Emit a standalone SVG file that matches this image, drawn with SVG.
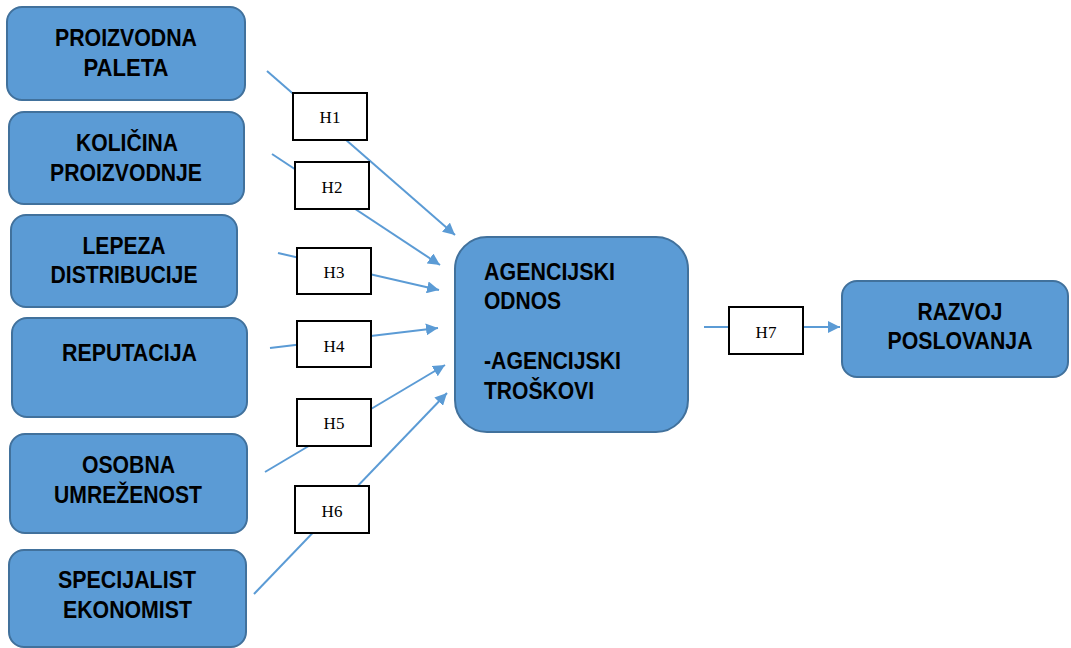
<svg xmlns="http://www.w3.org/2000/svg" width="1071" height="648" viewBox="0 0 1071 648">
<style>
.node rect{fill:#5B9BD5;stroke:#41719C;stroke-width:2}
.node text{font-family:"Liberation Sans",Arial,sans-serif;font-weight:bold;font-size:24px;fill:#000}
.hyp rect{fill:#fff;stroke:#000;stroke-width:2}
.hyp text{font-family:"Liberation Serif","Times New Roman",serif;font-size:17px;fill:#000;text-anchor:middle}
.conn line{stroke:#5B9BD5;stroke-width:2;fill:none}
.m{text-anchor:middle}
</style>
<defs>
<marker id="arr" viewBox="0 0 10 10" refX="10" refY="5" markerWidth="6" markerHeight="6" markerUnits="strokeWidth" orient="auto">
<path d="M0,0 L10,5 L0,10 z" fill="#5B9BD5"/>
</marker>
</defs>
<rect width="1071" height="648" fill="#fff"/>

<g id="connectors" class="conn">
<line x1="267" y1="71" x2="455" y2="235" marker-end="url(#arr)"/>
<line x1="272" y1="154" x2="440" y2="265" marker-end="url(#arr)"/>
<line x1="278" y1="253" x2="439" y2="290" marker-end="url(#arr)"/>
<line x1="270" y1="348" x2="438" y2="328" marker-end="url(#arr)"/>
<line x1="265" y1="472" x2="445" y2="365" marker-end="url(#arr)"/>
<line x1="254" y1="594" x2="447" y2="393" marker-end="url(#arr)"/>
<line x1="704" y1="327" x2="840" y2="327" marker-end="url(#arr)"/>
</g>

<g id="n1" class="node">
<rect x="7" y="7" width="238" height="93" rx="15"/>
<text class="m" x="126" y="46" textLength="142" lengthAdjust="spacingAndGlyphs">PROIZVODNA</text>
<text class="m" x="126" y="76" textLength="85" lengthAdjust="spacingAndGlyphs">PALETA</text>
</g>
<g id="n2" class="node">
<rect x="9" y="112" width="235" height="92" rx="15"/>
<text class="m" x="127" y="151" textLength="102" lengthAdjust="spacingAndGlyphs">KOLIČINA</text>
<text class="m" x="126" y="181" textLength="152" lengthAdjust="spacingAndGlyphs">PROIZVODNJE</text>
</g>
<g id="n3" class="node">
<rect x="11" y="215" width="226" height="92" rx="15"/>
<text class="m" x="124" y="254" textLength="83" lengthAdjust="spacingAndGlyphs">LEPEZA</text>
<text class="m" x="124" y="283" textLength="147" lengthAdjust="spacingAndGlyphs">DISTRIBUCIJE</text>
</g>
<g id="n4" class="node">
<rect x="12" y="318" width="235" height="99" rx="15"/>
<text class="m" x="129.5" y="361" textLength="135" lengthAdjust="spacingAndGlyphs">REPUTACIJA</text>
</g>
<g id="n5" class="node">
<rect x="10" y="434" width="237" height="99" rx="15"/>
<text class="m" x="128.5" y="473" textLength="93" lengthAdjust="spacingAndGlyphs">OSOBNA</text>
<text class="m" x="128" y="503" textLength="148" lengthAdjust="spacingAndGlyphs">UMREŽENOST</text>
</g>
<g id="n6" class="node">
<rect x="9" y="550" width="237" height="97" rx="15"/>
<text class="m" x="127" y="588" textLength="138" lengthAdjust="spacingAndGlyphs">SPECIJALIST</text>
<text class="m" x="127.5" y="618" textLength="129" lengthAdjust="spacingAndGlyphs">EKONOMIST</text>
</g>
<g id="agency" class="node">
<rect x="455" y="237" width="233" height="195" rx="32"/>
<text x="484" y="280" textLength="131" lengthAdjust="spacingAndGlyphs">AGENCIJSKI</text>
<text x="484" y="309" textLength="77" lengthAdjust="spacingAndGlyphs">ODNOS</text>
<text x="484" y="369" textLength="137" lengthAdjust="spacingAndGlyphs">-AGENCIJSKI</text>
<text x="484" y="399" textLength="110" lengthAdjust="spacingAndGlyphs">TROŠKOVI</text>
</g>
<g id="razvoj" class="node">
<rect x="842" y="281" width="226" height="96" rx="15"/>
<text class="m" x="960" y="320" textLength="85" lengthAdjust="spacingAndGlyphs">RAZVOJ</text>
<text class="m" x="960" y="349" textLength="145" lengthAdjust="spacingAndGlyphs">POSLOVANJA</text>
</g>

<g id="h1" class="hyp"><rect x="293" y="93" width="74" height="47"/><text x="330" y="123">H1</text></g>
<g id="h2" class="hyp"><rect x="295" y="162" width="74" height="47"/><text x="332" y="193">H2</text></g>
<g id="h3" class="hyp"><rect x="297" y="248" width="74" height="46"/><text x="334" y="278">H3</text></g>
<g id="h4" class="hyp"><rect x="297" y="321" width="74" height="46"/><text x="334" y="352">H4</text></g>
<g id="h5" class="hyp"><rect x="297" y="399" width="74" height="47"/><text x="334" y="429">H5</text></g>
<g id="h6" class="hyp"><rect x="295" y="486" width="74" height="47"/><text x="332" y="517">H6</text></g>
<g id="h7" class="hyp"><rect x="729" y="307" width="74" height="47"/><text x="766" y="338">H7</text></g>
</svg>
